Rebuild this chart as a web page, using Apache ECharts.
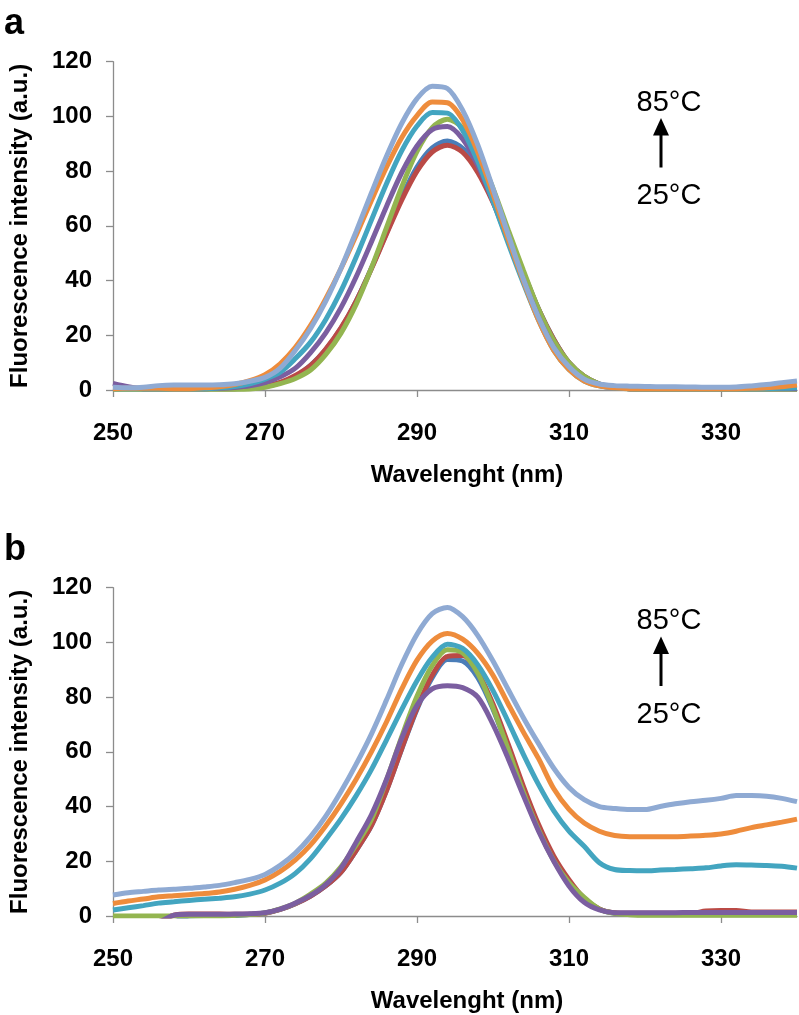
<!DOCTYPE html>
<html><head><meta charset="utf-8">
<script src="https://cdn.jsdelivr.net/npm/echarts@6/dist/echarts.min.js"></script>
<style>html,body{margin:0;padding:0;background:#fff}#c{width:799px;height:1015px}</style>
</head><body><div id="c"></div>
<script>
// ---- data ----
const wavelengths = [250,252,254,256,258,260,262,264,266,268,270,272,274,276,278,280,282,284,286,288,290,292,294,296,298,300,302,304,306,308,310,312,314,316,318,320,322,324,326,328,330,332,334,336,338,340];
const xTicks = [250,270,290,310,330];
const temps = ['25°C','35°C','45°C','55°C','65°C','75°C','85°C'];

// panel a
const a25 = [0.5,0.5,0.5,0.5,0.5,0.5,0.5,0.5,0.5,0.7, 1.3,2.6,5,9,14.8,22.5,32.5,44.5,57.5,70.5, 81.5,88.5,91,88.3,80.8,69.6,56.5,43,29.5,18.5, 10,5,2.2,1,0.5,0.5,0.5,0.5,0.5,0.5, 0.5,0.5,0.5,0.5,0.5,0.5];
const a35 = [0.5,0.5,0.5,0.5,0.5,0.5,0.5,0.5,0.5,0.8, 1.4,2.8,5.3,9,15,22.7,32.5,44.3,57.1,69.5, 80,87,89.5,86.9,79.5,68.6,55.8,42.8,29.5,18.5, 10,5,2.2,1,0.5,0.5,0.5,0.5,0.5,0.5, 0.5,0.5,0.5,0.5,0.5,0.5];
const a45 = [0.3,0.3,0.3,0.3,0.3,0.3,0.3,0.3,0.3,0.4, 1.0,2.3,4.2,7.3,13,20.8,31.4,44.6,59.4,74.3, 87.2,95.9,99,95.8,86.9,73.7,58.5,43.7,29.5,18, 10,5,2.2,0.8,0.4,0.3,0.3,0.3,0.3,0.3, 0.3,0.3,0.3,0.3,0.3,0.3];
const a55 = [2.4,1.2,0.5,0.5,0.5,0.5,0.5,0.6,0.9,1.5, 2.7,4.8,8,13.7,20.9,30.1,41.4,54.1,67.2,79.5, 89.2,95.2,96.3,91.8,82.1,68.9,54.4,40.2,26.5,15.5, 8,3.5,1.6,0.8,0.5,0.5,0.5,0.5,0.5,0.5, 0.5,0.5,0.5,0.5,0.5,0.5];
const a65 = [0.5,0.5,0.5,0.5,0.5,0.5,0.5,0.8,1.3,2.3, 4,6.5,11.5,17.5,25.8,36.2,48.6,62.1,75.5,87.5, 96.5,101.4,101.2,94.9,83.5,69,53.6,39,25.5,14.5, 7.5,3.3,1.5,0.8,0.5,0.5,0.5,0.5,0.5,0.5, 0.5,0.5,0.5,0.5,0.6,0.8];
const a75 = [0.5,0.6,0.6,0.6,0.5,0.5,0.8,1.2,2,3.4, 5.6,9.6,15.6,23.6,33.4,44.4,56.6,69.3,81.5,92.3, 100.3,105.3,105,98.8,86.9,71.6,55.1,39.8,25.5,14.5, 7.5,3.3,1.5,0.8,0.5,0.5,0.5,0.5,0.5,0.5, 0.5,0.5,0.6,0.8,1.2,1.8];
const a85 = [1.0,0.8,1.0,1.6,1.8,1.8,1.8,1.9,2.3,3.2, 4.6,8,14.5,22.5,32.5,44.5,58,72,85.5,97.5, 106.5,111,110.2,102.3,89.6,73.6,56.8,40.5,26.5,15.5, 8.5,4,2.2,1.6,1.4,1.3,1.2,1.2,1.1,1.0, 1.0,1.1,1.5,2.0,2.7,3.3];

// panel b
const b25 = [-2,-2,-2,-2,-2,0,0.2,0.2,0.2,0.6, 1.1,2.4,4.5,7.3,11,16,24,33,46,61.1, 75.6,87.1,93.8,93.2,87.1,75.6,61.1,46,32.2,21, 12.7,6.3,2.5,1,0.8,0.8,0.8,0.8,0.8,0.8, 0.8,0.8,0.8,0.8,0.8,0.8];
const b35 = [-2,-2,-2,-2,0.3,0.7,0.7,0.7,0.6,0.6, 1,2.4,4.5,7.3,11,16,24,33,45.9,61.3, 76,88,94.9,95.2,89,77.5,62.8,47.4,33.4,21.9, 13.3,6.5,2.6,1.2,1,1,1,1,1,1.8, 2,2,1.5,1.5,1.5,1.5];
const b45 = [0,0,0,0,0,0,0,0,0.2,0.5, 1.1,2.6,4.7,8,12,18,26,35.3,49.8,65.6, 80.3,91.5,97.3,96.2,88.7,76.1,60.9,45.2,31.5,20.2, 12.2,6.8,2.5,1,0.5,0.3,0.3,0.3,0.3,0.3, 0.3,0.3,0.3,0.3,0.3,0.3];
const b55 = [-2,-2,-2,-2,0.3,0.6,0.6,0.6,0.7,0.8, 1.2,2.5,4.7,7.5,11.5,17.5,27,37,50,65, 77,83,84.2,83.5,80,70,57.5,44,31,20, 11,5,2.2,1.2,1.2,1.2,1.2,1.2,1.3,1.3, 1.3,1.3,1.3,1.3,1.3,1.3];
const b65 = [2.2,3,3.8,4.7,5.2,5.7,6.1,6.5,7,8, 9.5,12,15.6,21,28,35.5,44,53.5,64.4,75.5, 86,94.5,99.3,97.8,91.8,82.4,71,59.1,48,38.4, 31,25.5,19.5,17,16.6,16.5,16.8,17,17.3,17.6, 18.3,18.7,18.6,18.5,18.2,17.5];
const b75 = [4.6,5.5,6.2,7,7.4,7.8,8.2,8.8,9.8,11.2, 13.2,16.3,20.5,26,33,41,50,60,71,83, 93.5,100.5,103.3,101.2,96,88,77.5,67.2,57.5,46.5, 39,34,31,29.4,29,29,29,29,29.2,29.5, 30,31,32.3,33.3,34.3,35.4];
const b85 = [7.7,8.5,9,9.5,9.8,10.1,10.6,11.2,12.2,13.4, 15.2,18.5,23,29,36.5,45.5,55.5,66.5,79,92, 103,110.5,112.8,109.4,102.5,93.2,82.8,72.5,63,54, 47,42.5,40,39.3,38.9,38.9,40,41,41.8,42.3, 43,44,44,43.8,43,41.8];

const panelA = [a25,a35,a45,a55,a65,a75,a85];
const panelB = [b25,b35,b45,b55,b65,b75,b85];
const colors = ['#4A7DB8','#BA4A46','#93B550','#7B5EA0','#43A5C0','#EE8C3C','#8FAAD3'];

// ---- chart ----
const FONT = "'Liberation Sans', Arial, Helvetica, sans-serif";
const AX = '#8C8C8C';
const chart = echarts.init(document.getElementById('c'), null, {renderer:'canvas'});

function xAx(g){
  return {type:'value', gridIndex:g, min:250, max:340,
    axisLine:{show:true, lineStyle:{color:AX, width:1.3}},
    axisTick:{show:true, length:7, customValues:xTicks, lineStyle:{color:AX, width:1.3}},
    axisLabel:{customValues:xTicks, margin:31, color:'#000', fontFamily:FONT, fontWeight:'bold', fontSize:24},
    splitLine:{show:false},
    name:'Wavelenght (nm)', nameLocation:'middle', nameGap:73,
    nameTextStyle:{color:'#000', fontFamily:FONT, fontWeight:'bold', fontSize:24, padding:[0,0,0,24]}
  };
}
function yAx(g){
  return {type:'value', gridIndex:g, min:0, max:120, interval:20,
    axisLine:{show:true, lineStyle:{color:AX, width:1.3}},
    axisTick:{show:true, length:7, lineStyle:{color:AX, width:1.3}},
    axisLabel:{margin:21, color:'#000', fontFamily:FONT, fontWeight:'bold', fontSize:24},
    splitLine:{show:false},
    name:'Fluorescence intensity (a.u.)', nameLocation:'middle', nameGap:81,
    nameTextStyle:{color:'#000', fontFamily:FONT, fontWeight:'bold', fontSize:24}
  };
}
const series = [];
[panelA, panelB].forEach((panel, g) => {
  panel.forEach((vals, i) => {
    series.push({
      type:'line', name:temps[i], xAxisIndex:g, yAxisIndex:g,
      data: wavelengths.map((w, k) => [w, vals[k]]),
      showSymbol:false, symbol:'none', smooth:0.3, clip:true,
      lineStyle:{width:5, color:colors[i]}, itemStyle:{color:colors[i]},
      z: 2 + i
    });
  });
});

function annot(topY){
  return [
    {type:'text', style:{text:'85°C', x:669, y:topY, align:'center', verticalAlign:'middle', font:'29px ' + FONT, fill:'#000'}},
    {type:'line', shape:{x1:661, y1:topY+26, x2:661, y2:topY+65}, style:{stroke:'#000', lineWidth:3}},
    {type:'polygon', shape:{points:[[661,topY+15.5],[653,topY+33],[669,topY+33]]}, style:{fill:'#000'}},
    {type:'text', style:{text:'25°C', x:669, y:topY+93.5, align:'center', verticalAlign:'middle', font:'29px ' + FONT, fill:'#000'}}
  ];
}

chart.setOption({
  backgroundColor:'#fff',
  animation:false,
  grid:[
    {left:106, top:61.7, width:691, height:328.3},
    {left:106, top:587.7, width:691, height:328.3}
  ],
  xAxis:[xAx(0), xAx(1)],
  yAxis:[yAx(0), yAx(1)],
  series: series,
  graphic:[
    {type:'text', style:{text:'a', x:4, y:24.5, verticalAlign:'middle', font:'bold 36px ' + FONT, fill:'#000'}},
    {type:'text', style:{text:'b', x:4, y:550.5, verticalAlign:'middle', font:'bold 36px ' + FONT, fill:'#000'}},
    ...annot(102.5),
    ...annot(621)
  ]
});
</script>
</body></html>
